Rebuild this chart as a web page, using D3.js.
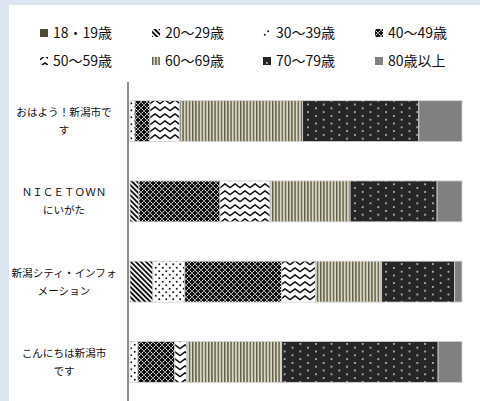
<!DOCTYPE html>
<html><head><meta charset="utf-8">
<script src="https://cdn.jsdelivr.net/npm/d3@7"></script>
<style>body{margin:0;background:#fff}svg{display:block}text{font-family:"Noto Sans CJK JP","Noto Sans",sans-serif;fill:#111}</style>
</head><body>
<script>
// ---- data ----
const categories = ["おはよう！新潟市です", "ＮＩＣＥＴＯＷＮにいがた", "新潟シティ・インフォメーション", "こんにちは新潟市です"];
const categoryLines = [["おはよう！新潟市で", "す"], ["ＮＩＣＥＴＯＷＮ", "にいがた"], ["新潟シティ・インフォ", "メーション"], ["こんにちは新潟市", "です"]];
const ageGroups = ["18・19歳", "20〜29歳", "30〜39歳", "40〜49歳", "50〜59歳", "60〜69歳", "70〜79歳", "80歳以上"];
const s18 = [0, 0, 0, 0];
const s20 = [0, 2.7, 6.9, 0];
const s30 = [1.5, 0, 9.6, 2.4];
const s40 = [4.5, 24.4, 29.2, 11.1];
const s50 = [9.0, 15.1, 10.2, 3.6];
const s60 = [37.0, 24.1, 19.9, 28.6];
const s70 = [35.0, 26.2, 22.0, 47.1];
const s80 = [13.0, 7.5, 2.2, 7.2];
const seriesValues = [s18, s20, s30, s40, s50, s60, s70, s80];

const rows = categories.map((c, i) => {
  const o = {cat: c};
  ageGroups.forEach((g, k) => o[g] = seriesValues[k][i]);
  return o;
});

const W = 480, H = 401;
const svg = d3.select("body").append("svg").attr("width", W).attr("height", H);
svg.append("rect").attr("width", W).attr("height", H).attr("fill", "#dce6f2");
svg.append("rect").attr("x", 9).attr("y", 5).attr("width", W - 9).attr("height", H - 5).attr("fill", "#fff");

// ---- patterns ----
const defs = svg.append("defs");
function pat(id, w, h, tf) {
  const p = defs.append("pattern").attr("id", id).attr("patternUnits", "userSpaceOnUse")
    .attr("width", w).attr("height", h);
  if (tf) p.attr("patternTransform", tf);
  return p;
}
// 20-29 diagonal
let p = pat("p1", 3.6, 3.6, "rotate(-45)");
p.append("rect").attr("width", 3.6).attr("height", 3.6).attr("fill", "#fff");
p.append("rect").attr("width", 1.9).attr("height", 3.6).attr("fill", "#111");
// 30-39 dots
p = pat("p2", 7, 7);
p.append("rect").attr("width", 7).attr("height", 7).attr("fill", "#fff");
[[1.75, 1.75], [5.25, 5.25]].forEach(d => p.append("circle").attr("cx", d[0]).attr("cy", d[1]).attr("r", 1).attr("fill", "#1a1a1a"));
// 40-49 trellis
p = pat("p3", 6, 6);
p.append("rect").attr("width", 6).attr("height", 6).attr("fill", "#e6e6e6");
[[3, 3], [0, 0], [6, 0], [0, 6], [6, 6]].forEach(d => {
  p.append("rect").attr("x", d[0] - 2.2).attr("y", d[1] - 1).attr("width", 4.4).attr("height", 2).attr("fill", "#111");
  p.append("rect").attr("x", d[0] - 1).attr("y", d[1] - 2.2).attr("width", 2).attr("height", 4.4).attr("fill", "#111");
});
// 50-59 wave
p = pat("p4", 10, 7);
p.append("rect").attr("width", 10).attr("height", 7).attr("fill", "#fff");
p.append("path").attr("d", "M-5,1.8 L0,5.6 L5,1.8 L10,5.6 L15,1.8").attr("fill", "none")
  .attr("stroke", "#111").attr("stroke-width", 1.5).attr("stroke-linejoin", "round");
// 60-69 vertical stripes
p = pat("p5", 3.2, 4);
p.append("rect").attr("width", 3.2).attr("height", 4).attr("fill", "#dad7c5");
p.append("rect").attr("width", 1.4).attr("height", 4).attr("fill", "#5f5b46");
// 70-79 dark dots
p = pat("p6", 15.6, 7.6);
p.append("rect").attr("width", 15.6).attr("height", 7.6).attr("fill", "#262626");
[[3.9, 1.9], [11.7, 5.7]].forEach(d => p.append("circle").attr("cx", d[0]).attr("cy", d[1]).attr("r", 1).attr("fill", "#cfcfcf"));

const fills = ["#4d4733", "url(#p1)", "url(#p2)", "url(#p3)", "url(#p4)", "url(#p5)", "url(#p6)", "#808080"];

// ---- scales ----
const x = d3.scaleLinear().domain([0, 100]).range([130, 462]);
const y = d3.scaleBand().domain(categories).range([81, 402]).paddingInner(0.49).paddingOuter(0.245);

const stack = d3.stack().keys(ageGroups)(rows);
svg.append("g").selectAll("g").data(stack).join("g")
  .attr("fill", (d, i) => fills[i])
  .selectAll("rect").data(d => d).join("rect")
  .attr("x", d => x(d[0])).attr("width", d => Math.max(0, x(d[1]) - x(d[0])))
  .attr("y", d => y(d.data.cat)).attr("height", y.bandwidth())
  .attr("stroke", d => (d[1] - d[0]) > 0 ? "#d4d4d4" : "none").attr("stroke-width", 0.8);

// axis
const yAxis = d3.axisLeft(y).tickSize(0).tickFormat("");
const ag = svg.append("g").attr("transform", "translate(128,0)").call(yAxis);
ag.select(".domain").attr("d", "M0,82V401").attr("stroke", "#8c8c8c").attr("stroke-width", 2);

// category labels
svg.append("g").selectAll("text").data(categories).join("text")
  .attr("x", 64).attr("y", d => y(d) + y.bandwidth() / 2)
  .attr("text-anchor", "middle").attr("font-size", 10.6)
  .each(function (d, i) {
    const lines = categoryLines[i];
    d3.select(this).selectAll("tspan").data(lines).join("tspan")
      .attr("x", 64).attr("dy", (l, j) => j === 0 ? (-(lines.length - 1) * 9 + 4) + "px" : "18px")
      .text(l => l);
  });

// legend
const legX = [40, 152, 263, 375], legY = [33, 61];
const lg = svg.append("g").selectAll("g").data(ageGroups).join("g")
  .attr("transform", (d, i) => `translate(${legX[i % 4]},${legY[Math.floor(i / 4)]})`);
lg.append("rect").attr("x", 0).attr("y", -4).attr("width", 8).attr("height", 8).attr("fill", (d, i) => fills[i]);
lg.append("text").attr("x", 13).attr("y", 0).attr("dy", "0.36em").attr("font-size", 14).text(d => d);
</script>
</body></html>
